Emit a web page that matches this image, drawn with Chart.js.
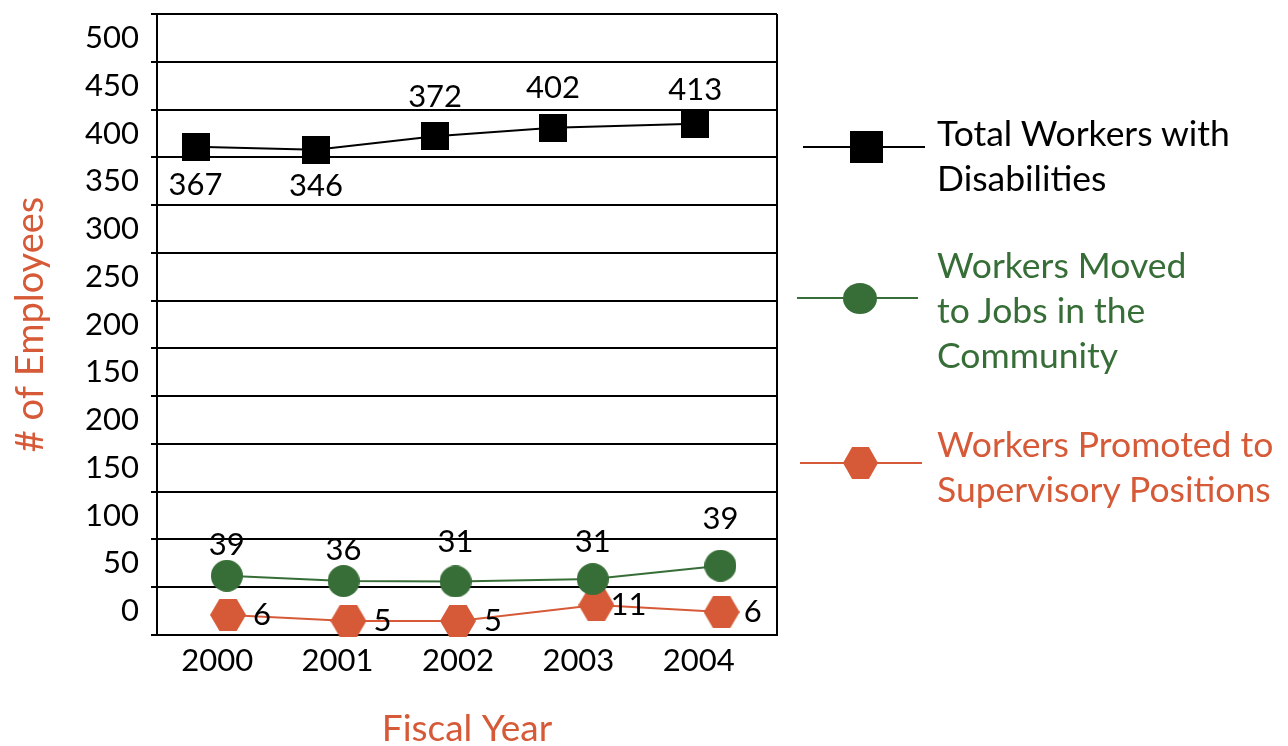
<!DOCTYPE html>
<html>
<head>
<meta charset="utf-8">
<script src="https://cdn.jsdelivr.net/npm/chart.js@4.4.1/dist/chart.umd.min.js"></script>
<style>
html, body { margin: 0; padding: 0; background: #ffffff; }
#wrap { position: relative; width: 1288px; height: 746px; overflow: hidden; }
#c { position: absolute; left: 0; top: 0; }
.legText { position: absolute; left: 937px; font-family: Lato, "Noto Sans", sans-serif; font-size: 35.5px; line-height: 45px; white-space: nowrap; }
.legLine { position: absolute; height: 2px; }
.legMark { position: absolute; }
</style>
</head>
<body>
<div id="wrap">
  <canvas id="c" width="1288" height="746"></canvas>
  <div id="legend"></div>
</div>
<script>
// ---------- data ----------
const categories = [2000, 2001, 2002, 2003, 2004];
const yTickLabels = ['500', '450', '400', '350', '300', '250', '200', '150', '200', '150', '100', '50', '0'];

const seriesNames = [
  ['Total Workers with', 'Disabilities'],
  ['Workers Moved', 'to Jobs in the', 'Community'],
  ['Workers Promoted to', 'Supervisory Positions']
];

// printed values
const totalValues = [367, 346, 372, 402, 413];
const movedValues = [39, 36, 31, 31, 39];
const promotedValues = [6, 5, 5, 11, 6];

// where each marker sits in the picture, read in axis units
const totalX = [1999.82, 2000.82, 2001.81, 2002.79, 2003.97];
const totalY = [511, 508, 522, 531, 535];
const movedX = [2000.08, 2001.05, 2001.98, 2003.12, 2004.18];
const movedY = [62, 56.5, 56, 58.5, 72.5];
const promotedX = [2000.09, 2001.09, 2002.0, 2003.15, 2004.19];
const promotedY = [21, 14.7, 14.7, 31.5, 24];

// ---------- styles ----------
const BLACK = '#000000';
const GREEN = '#376e37';
const ORANGE = '#d65a37';
const FONT = 'Lato, "Noto Sans", sans-serif';

function makeMarker(kind, w, h, color) {
  const c = document.createElement('canvas');
  c.width = w; c.height = h;
  const g = c.getContext('2d');
  g.fillStyle = color;
  g.beginPath();
  if (kind === 'square') {
    g.rect(0, 0, w, h);
  } else if (kind === 'ellipse') {
    g.ellipse(w / 2, h / 2, w / 2, h / 2, 0, 0, Math.PI * 2);
  } else {
    g.moveTo(0, h / 2);
    g.lineTo(w * 0.26, 0);
    g.lineTo(w * 0.74, 0);
    g.lineTo(w, h / 2);
    g.lineTo(w * 0.74, h);
    g.lineTo(w * 0.26, h);
    g.closePath();
  }
  g.fill();
  return c;
}

function pts(xs, ys) { return xs.map((x, i) => ({ x: x, y: ys[i] })); }

const datasets = [
  {
    label: seriesNames[0].join(' '),
    data: pts(totalX, totalY),
    values: totalValues,
    labelPlace: ['below', 'below', 'above', 'above', 'above'],
    labelDist: [38, 36, 39, 40, 34],
    borderColor: BLACK,
    backgroundColor: BLACK,
    borderWidth: 2,
    pointStyle: makeMarker('square', 28, 28, BLACK),
    pointRadius: 14,
    tension: 0,
    clip: false
  },
  {
    label: seriesNames[1].join(' '),
    data: pts(movedX, movedY),
    values: movedValues,
    labelPlace: ['above', 'above', 'above', 'above', 'above'],
    labelDist: [31, 31, 39, 37, 47],
    borderColor: GREEN,
    backgroundColor: GREEN,
    borderWidth: 2,
    pointStyle: makeMarker('ellipse', 32, 32, GREEN),
    pointRadius: 16,
    tension: 0,
    clip: false
  },
  {
    label: seriesNames[2].join(' '),
    data: pts(promotedX, promotedY),
    values: promotedValues,
    labelPlace: ['right', 'right', 'right', 'right', 'right'],
    labelDist: [34, 34, 35, 32, 31],
    borderColor: ORANGE,
    backgroundColor: ORANGE,
    borderWidth: 2,
    pointStyle: makeMarker('hexagon', 36, 32, ORANGE),
    pointRadius: 16,
    tension: 0,
    clip: false
  }
];

const pointLabels = {
  id: 'pointLabels',
  afterDatasetsDraw(chart) {
    const ctx = chart.ctx;
    ctx.save();
    ctx.font = '31px ' + FONT;
    ctx.fillStyle = BLACK;
    ctx.textAlign = 'center';
    ctx.textBaseline = 'middle';
    chart.data.datasets.forEach((ds, di) => {
      chart.getDatasetMeta(di).data.forEach((pt, i) => {
        let x = pt.x, y = pt.y;
        const p = ds.labelPlace[i];
        const d = ds.labelDist[i];
        if (p === 'above') y -= d;
        else if (p === 'below') y += d;
        else x += d;
        ctx.fillText(String(ds.values[i]), x, y);
      });
    });
    ctx.restore();
  }
};

const frame = {
  id: 'frame',
  beforeDatasetsDraw(chart) {
    const a = chart.chartArea, ctx = chart.ctx;
    ctx.save();
    ctx.strokeStyle = BLACK;
    ctx.lineWidth = 2;
    ctx.beginPath();
    ctx.moveTo(a.right, a.top);
    ctx.lineTo(a.right, a.bottom);
    ctx.stroke();
    ctx.restore();
  }
};

new Chart(document.getElementById('c'), {
  type: 'line',
  data: { datasets: datasets },
  plugins: [frame, pointLabels],
  options: {
    responsive: false,
    animation: false,
    devicePixelRatio: 1,
    layout: { autoPadding: false, padding: { left: 0, top: 14, right: 511, bottom: 0 } },
    plugins: { legend: { display: false }, tooltip: { enabled: false } },
    scales: {
      x: {
        type: 'linear',
        min: 1999.5,
        max: 2004.65,
        afterBuildTicks: (axis) => { axis.ticks = categories.map(v => ({ value: v })); },
        afterFit: (s) => { s.height = 111; s.paddingLeft = 0; s.paddingRight = 0; },
        ticks: {
          autoSkip: false,
          maxRotation: 0,
          padding: 7,
          color: BLACK,
          font: { family: FONT, size: 31 },
          callback: (v) => String(v)
        },
        grid: { display: false, drawTicks: false },
        border: { display: true, color: BLACK, width: 2 },
        title: {
          display: true,
          text: 'Fiscal Year',
          color: ORANGE,
          font: { family: FONT, size: 37, lineHeight: 1 },
          padding: { top: 0, bottom: -2 }
        }
      },
      y: {
        type: 'linear',
        min: 0,
        max: 650,
        afterFit: (s) => { s.width = 157; s.paddingTop = 0; s.paddingBottom = 0; },
        ticks: {
          stepSize: 50,
          autoSkip: false,
          labelOffset: 24,
          padding: 12,
          color: BLACK,
          font: { family: FONT, size: 31 },
          callback: (v, i) => (i === 0 ? '' : yTickLabels[13 - i])
        },
        grid: { color: BLACK, lineWidth: 2, tickLength: 6, drawTicks: true },
        border: { display: true, color: BLACK, width: 2 },
        title: {
          display: true,
          text: '# of Employees',
          color: ORANGE,
          font: { family: FONT, size: 38, lineHeight: 1.2 },
          padding: { top: 8, bottom: 0 }
        }
      }
    }
  }
});

// ---------- legend ----------
const legendColors = [BLACK, GREEN, ORANGE];
const legendMarkers = [
  makeMarker('square', 33, 32, BLACK),
  makeMarker('ellipse', 34, 31, GREEN),
  makeMarker('hexagon', 35, 32, ORANGE)
];
const legendGeom = [
  { lineL: 803, lineR: 925, y: 147, mx: 866, textTop: 110 },
  { lineL: 797, lineR: 918, y: 298, mx: 860, textTop: 242 },
  { lineL: 800, lineR: 922, y: 463, mx: 860, textTop: 421 }
];
const legend = document.getElementById('legend');
seriesNames.forEach((lines, i) => {
  const g = legendGeom[i];
  const ln = document.createElement('div');
  ln.className = 'legLine';
  ln.style.left = g.lineL + 'px';
  ln.style.width = (g.lineR - g.lineL) + 'px';
  ln.style.top = (g.y - 1) + 'px';
  ln.style.background = legendColors[i];
  legend.appendChild(ln);
  const m = legendMarkers[i];
  m.className = 'legMark';
  m.style.left = (g.mx - m.width / 2) + 'px';
  m.style.top = (g.y - m.height / 2) + 'px';
  legend.appendChild(m);
  const t = document.createElement('div');
  t.className = 'legText';
  t.style.top = g.textTop + 'px';
  t.style.color = legendColors[i];
  t.innerHTML = lines.join('<br>');
  legend.appendChild(t);
});
</script>
</body>
</html>
